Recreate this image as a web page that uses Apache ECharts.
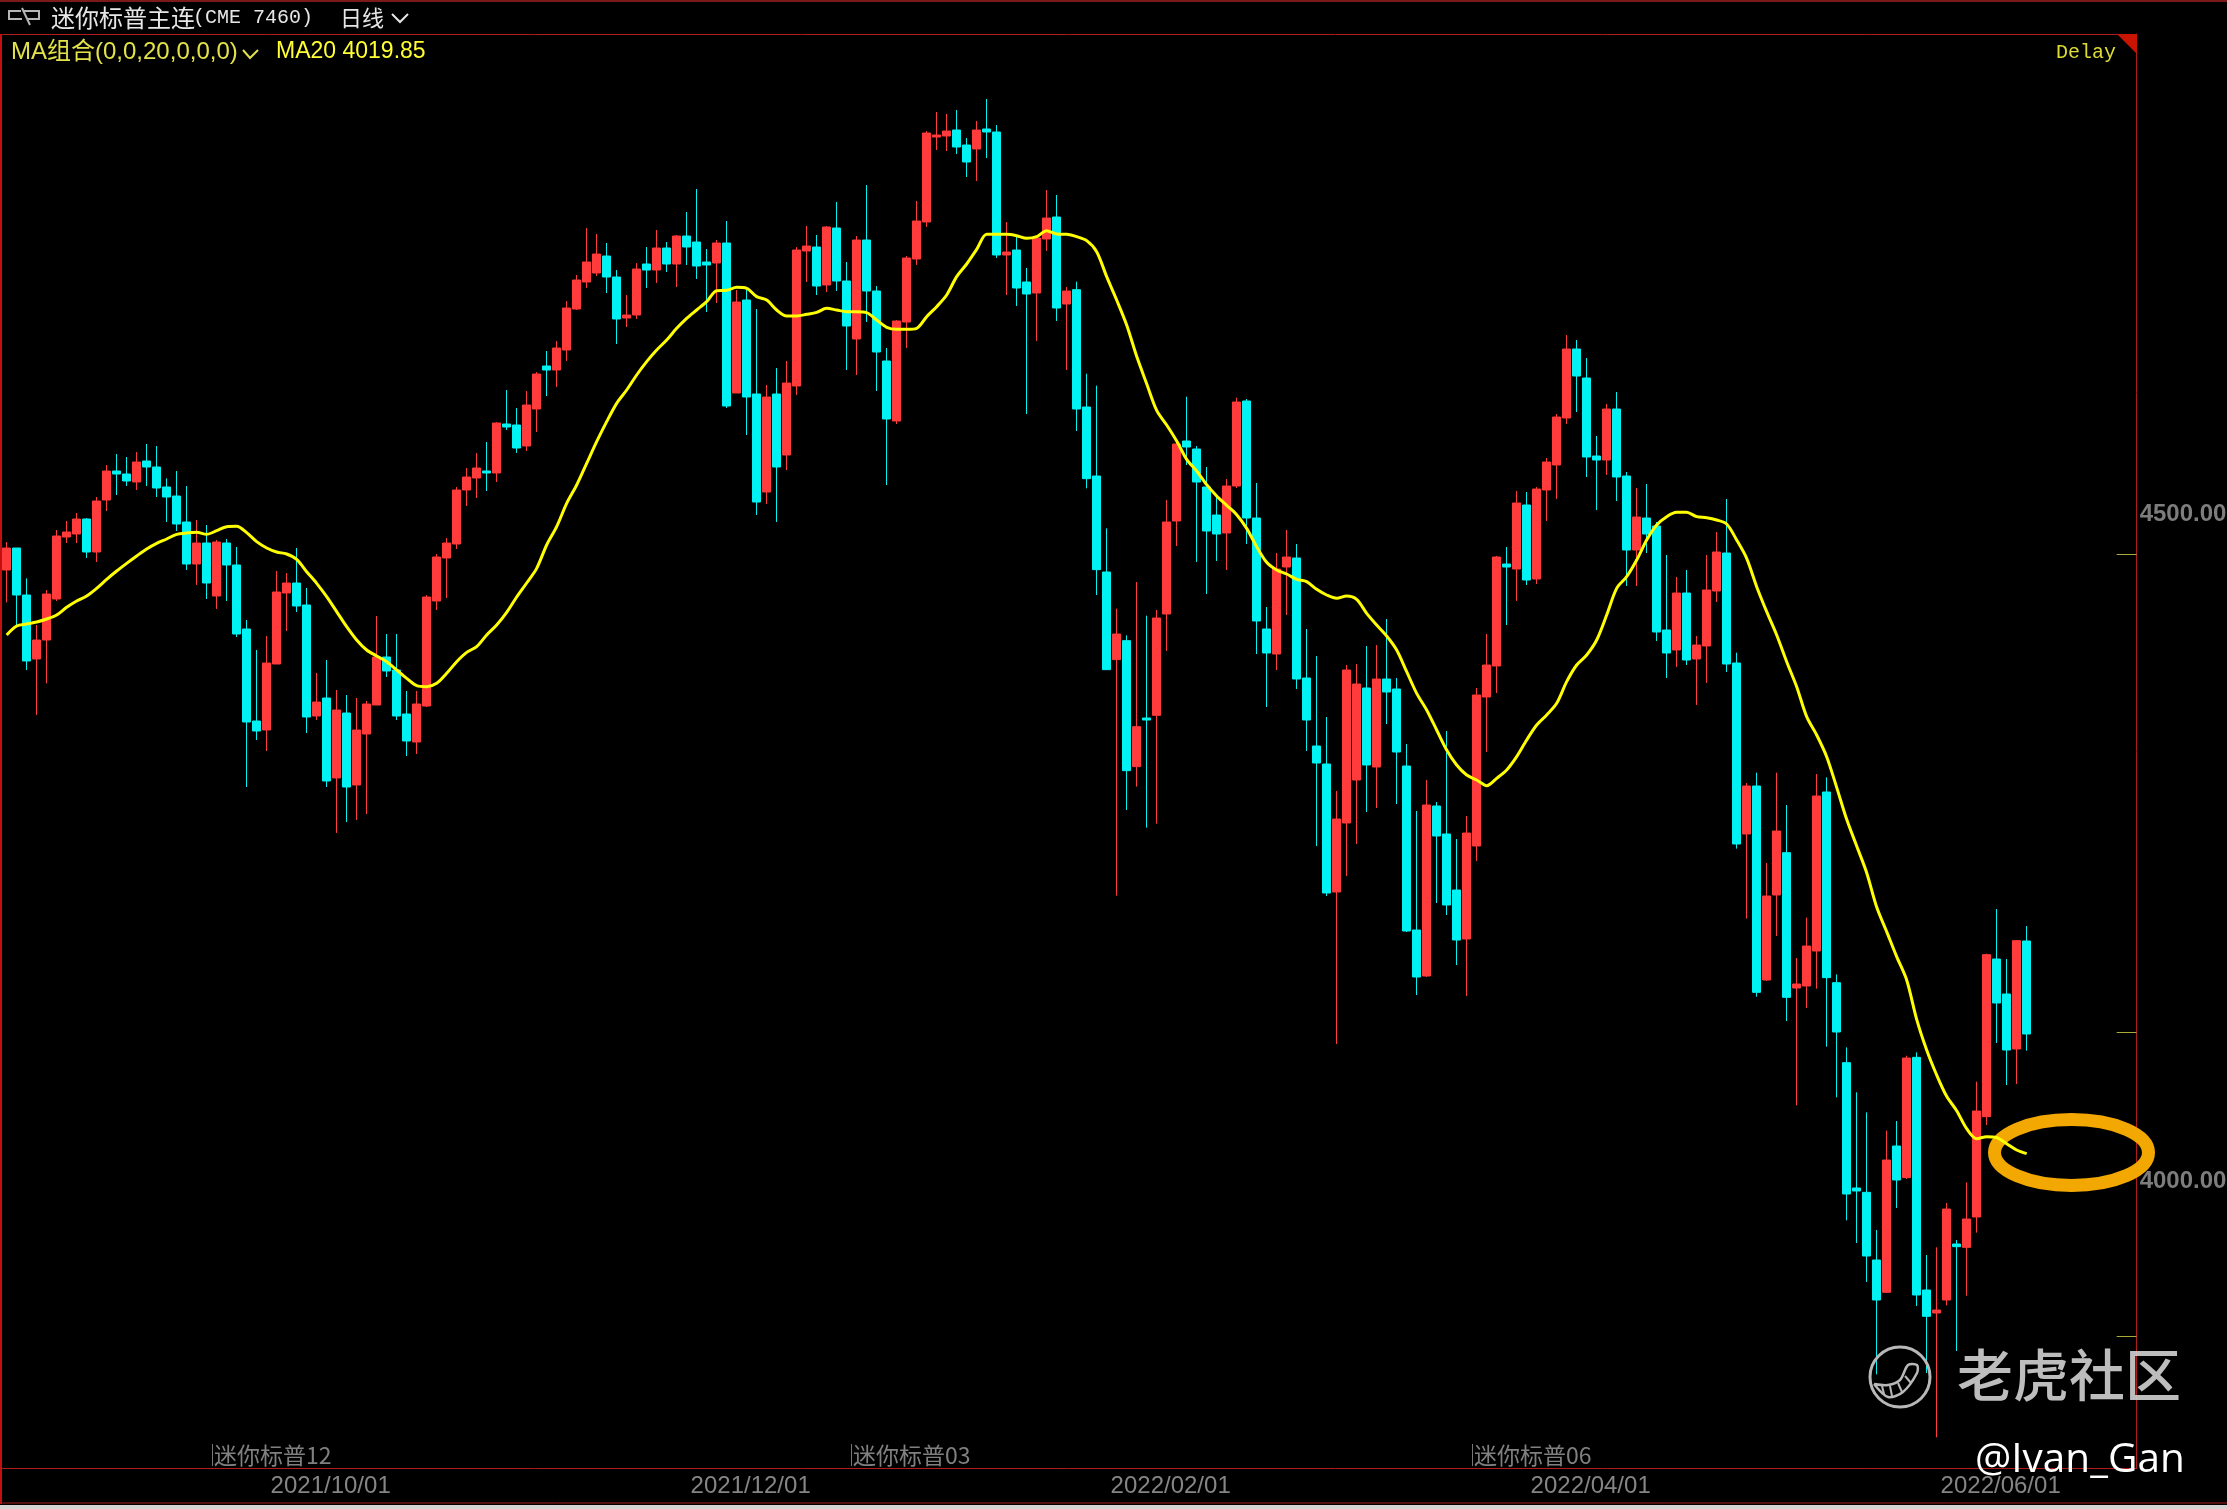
<!DOCTYPE html>
<html>
<head>
<meta charset="utf-8">
<style>html,body{margin:0;padding:0;background:#000;width:2227px;height:1509px;overflow:hidden}#c{width:2227px;height:1509px}</style>
<script src="https://cdn.jsdelivr.net/npm/echarts@6/dist/echarts.min.js"></script>
</head>
<body>
<div id="c"></div>
<script>
const opens = [
4455.75,4472.25,4437,4389,4403.25,4434,4480.5,4482.75,4494,4469.25,
4508.25,4530,4527.75,4521.75,4537.5,4533,4518,4511.25,4491.75,4460.25,
4476,4436.25,4476,4459.5,4411.5,4342.5,4335.75,4385.25,4438.5,4446,
4429.5,4346.25,4359.75,4299.75,4348.5,4294.5,4332.75,4354.5,4390.5,4380.75,
4347.75,4326.75,4353.75,4432.5,4464.75,4475.25,4515.75,4524.75,4530,4528.5,
4565.25,4564.5,4548.75,4576.5,4608.75,4605.75,4620.75,4651.5,4671.75,4678.5,
4691.25,4675.5,4644.75,4647,4685.25,4680.75,4697.25,4685.25,4706.25,4701.75,
4686.75,4686,4701,4588.5,4658.25,4587.75,4514.25,4587.75,4542,4593.75,
4695,4698,4669.5,4712.25,4672.5,4629,4703.25,4665,4612.5,4567.5,
4641.75,4689,4716.75,4780.5,4781.25,4785.75,4774.5,4771.5,4786.5,4784.25,
4692,4695.75,4671.75,4663.5,4704,4720.5,4655.25,4666,4578,4526.25,
4454.25,4388.5,4402.75,4308.25,4344.75,4346.75,4422.75,4492.5,4552.5,4546.5,
4518,4497,4483.5,4518.75,4582.5,4494.75,4411.5,4392.75,4458,4464.75,
4374.75,4323.75,4310.25,4214.25,4266,4298.25,4367.25,4308,4374,4366.5,
4308.75,4185.75,4151.25,4278.75,4257.75,4215.75,4179,4248.75,4360.5,4383.75,
4460.25,4456.5,4504.5,4449,4515.75,4534.5,4569.75,4621.5,4599.75,4541.25,
4538.25,4576.5,4526.25,4470.75,4494.75,4488.75,4410.75,4395.75,4438.5,4389,
4398.75,4440,4468.5,4386,4257.75,4293.75,4148.25,4212,4243.75,4142.25,
4143.75,4170,4289.25,4146.25,4086.25,3992.25,3989,3938.25,3914,4023.75,
4000,4090.25,3915.75,3898.5,3908.25,3950.25,3947.75,3970.5,4045.75,4164,
4137.75,4096.5,4177.5];
const closes = [
4472.25,4437,4387.5,4403.25,4437.75,4481.25,4484.25,4494,4469.25,4507.5,
4530,4527.75,4522.5,4536.75,4533,4517.25,4510.5,4490.25,4460.25,4476,
4446,4476.75,4459.5,4407.75,4341.75,4335,4386,4439.25,4446,4428.75,
4345.5,4356.75,4297.5,4350.75,4293,4335.75,4355.25,4390.5,4380,4346.25,
4327.5,4355.25,4435.5,4465.5,4476,4515.75,4525.5,4532.25,4528.5,4566,
4563,4547.25,4579.5,4602.75,4605.75,4622.25,4652.25,4673.25,4686.75,4692.75,
4675.5,4644,4647,4681.5,4680.75,4697.25,4685.25,4706.25,4698,4683.75,
4684.5,4701,4578.75,4656.75,4585.5,4506.75,4585.5,4533,4596,4695.75,
4698.75,4668.75,4713,4672.5,4638.75,4703.25,4665,4619.25,4569,4642.5,
4689.75,4717.5,4783.5,4782,4785,4773,4761.75,4785.75,4784.25,4692,
4694.25,4667.25,4662.75,4704.75,4719.75,4652.25,4665,4576.5,4524.25,4456,
4381,4407.75,4305.25,4338.25,4343.25,4419.75,4491.75,4550.25,4548,4521.75,
4485,4482.75,4518.75,4581.75,4494.75,4417.5,4393.5,4456.5,4465.5,4374,
4343.25,4311,4213.5,4269,4380.75,4370.25,4309.5,4374,4364.25,4319.25,
4185,4150.5,4279.5,4256.25,4204.5,4178.25,4258.5,4362,4384.5,4465.5,
4458,4506,4448.25,4516.5,4536.75,4570.5,4621.5,4601.25,4540.5,4538.25,
4576.5,4525.5,4470.75,4495.5,4482.75,4409.25,4393.5,4438.5,4388.25,4399.5,
4440.75,4469.25,4385.25,4250.25,4293.75,4139,4211.25,4260,4135.25,4145.25,
4173.75,4286.25,4150,4109.25,3987.75,3990,3941.25,3908.25,4013.25,3998.25,
4089.75,3912,3896,3900.75,3976.5,3948.25,3969,4050,4167.25,4131,
4095.75,4177.75,4107.75];
const lows = [
4431.5,4414.5,4380.75,4347,4370.75,4432.5,4476,4476,4464.75,4461.75,
4500,4512,4518.75,4515.75,4518.75,4510.5,4491.75,4485,4455.75,4444.5,
4434,4426.5,4432.5,4405.5,4293,4328.25,4320,4385.25,4410,4424.25,
4333.5,4343.25,4293,4258.5,4266.75,4268.25,4272.75,4354.5,4375.5,4343.25,
4316.25,4317.75,4353,4425.75,4434.75,4471.5,4503.75,4509.75,4515,4521.75,
4560.75,4543.5,4545,4559.25,4586.25,4593,4612.5,4650.75,4667.25,4676.25,
4663.5,4625.25,4638,4644,4667.25,4671,4679.25,4668,4684.5,4674,
4649.25,4656,4577.25,4588.5,4557,4497,4505.25,4491.75,4530.75,4587,
4671.75,4662,4664.25,4665,4605.75,4602,4641.75,4590,4519.5,4565.25,
4622.25,4684.5,4713,4770.75,4770,4767.75,4750.5,4747.5,4764.75,4689.75,
4662,4653.75,4572.75,4627.5,4695,4642.5,4605.75,4560,4517,4437,
4381,4211.5,4275.75,4293.25,4262.5,4265.5,4395,4473.75,4534.5,4461.75,
4437.75,4462.5,4455.75,4517.25,4475.25,4392.75,4353,4380.75,4422,4366.5,
4320,4248.75,4211.25,4100.25,4226.25,4250.25,4274.25,4277.25,4340.25,4280.25,
4184.25,4137,4150.5,4206,4197,4159.5,4136.25,4237.5,4319.25,4363.5,
4414.5,4432.5,4444.5,4445.25,4492.5,4509,4565.25,4574.25,4525.5,4500.75,
4527,4507.5,4443.75,4443.75,4468.5,4402.5,4374.75,4383,4384.5,4354.5,
4371,4431.75,4379.25,4246.75,4194.25,4135.75,4147.5,4181.25,4117.5,4054.25,
4127.25,4141.75,4098.25,4060.25,3968,3951,3921.75,3852.5,3913.75,3977.25,
3999,3903.75,3853.5,3805.25,3904.25,3870,3911.5,3958.75,4039.5,4101,
4069.5,4070.25,4095.25];
const highs = [
4476.75,4472.25,4449.5,4414.5,4440.75,4485.75,4492.5,4498.5,4494.75,4510.5,
4534.5,4542.75,4540.5,4544.25,4550.25,4548.75,4524.5,4530,4518.75,4493.25,
4489.5,4478.25,4479,4473,4418.25,4395.75,4406.25,4455,4453.5,4472.25,
4442.25,4378.5,4388.25,4365.75,4362,4359.75,4357.5,4421.25,4407.75,4407.75,
4365,4365,4437,4467.75,4479.75,4518,4532.25,4543.5,4551.75,4566.75,
4590.75,4577.25,4590,4604.25,4620,4627.5,4657.5,4677,4712.25,4707.75,
4701,4680.75,4662,4686,4698,4710.75,4701.75,4707,4724.25,4741.5,
4696.5,4703.25,4717.5,4665.75,4665.75,4651.5,4594.5,4607.25,4612.5,4698,
4713.75,4707,4713.75,4731.75,4686.75,4706.25,4744.5,4668.75,4622.25,4643.25,
4691.25,4732.5,4785,4799.25,4797.75,4800.75,4779.75,4792.5,4809,4789.5,
4716.75,4705.5,4682.25,4704.75,4740.75,4737,4668,4672,4603,4594,
4487,4426.75,4406.75,4446.75,4421.5,4425.75,4508.25,4553.25,4585.75,4548.75,
4533,4512,4524,4585,4584,4521,4428,4468.5,4485.75,4475.25,
4411.5,4391.25,4345.5,4290,4384.5,4385.25,4398.75,4399.5,4419,4374.75,
4325.25,4275,4298.25,4281.75,4335,4254,4271.25,4367.25,4407.75,4466.25,
4473,4515,4514.25,4518,4539.75,4572.75,4632,4628.25,4614.75,4556.25,
4580.25,4589.25,4529.25,4517.25,4520.25,4491.75,4467,4450.5,4455.75,4406.25,
4467,4484.25,4509,4393.75,4296,4303.75,4236,4303.75,4279.5,4164.75,
4195,4302.75,4300.25,4152.5,4097.75,4064,4049,3960.75,4035.25,4042.5,
4091.5,4094,3942,3947.75,3981,3953.25,3996.5,4072,4168,4201.5,
4164,4178.25,4188.75];
const ma20 = [
4407,4413.75,4415.25,4416.75,4419,4422,4427.75,4432.5,4436.25,4442,
4448.75,4455,4460.75,4466.25,4471.5,4475.75,4479,4482.5,4483.5,4484,
4482.5,4485.25,4488.25,4488.5,4483.75,4477,4472.25,4469.25,4467.75,4463.75,
4454.5,4445.75,4435.75,4424.5,4413.25,4403.25,4395.75,4391.25,4387,4380.75,
4374.5,4369,4368.25,4370.75,4378.25,4387,4394,4398.25,4407,4414.5,
4424,4435.5,4446,4457,4474.5,4488.25,4505.75,4519.5,4535.75,4552,
4567,4580.75,4590.75,4602,4612,4620.75,4628.25,4637,4644.5,4650.75,
4657,4665.25,4665.5,4667.75,4667,4660.75,4658.25,4650.75,4646.25,4646.25,
4647.5,4649,4652,4650.75,4649.5,4649.5,4648.75,4643.25,4637.75,4636.25,
4636.25,4637,4645.75,4653.25,4662,4675.75,4685.25,4696.25,4707.5,4707.5,
4707.5,4706.5,4704.5,4705.75,4710.25,4707.75,4707.5,4705.75,4702.75,4694.5,
4675.75,4658.25,4639.5,4616,4595.5,4575.5,4564.5,4552.5,4538.75,4530,
4519.75,4511.25,4504.25,4497.25,4487,4473.25,4461.5,4455.75,4452.75,4448.75,
4447,4441.25,4437,4434.5,4436.25,4433.75,4423.25,4414.5,4406.25,4395.75,
4379.5,4363.25,4350.75,4335.75,4320.75,4309.5,4302,4298.25,4294,4299.5,
4305.75,4315.75,4328.25,4339.5,4347,4355.75,4372,4384.5,4392,4403.25,
4422,4442,4450.75,4463.25,4478.25,4489.5,4495.75,4499,4499,4495.75,
4495,4493.25,4490.25,4478.25,4464.5,4443.25,4424.5,4407,4387,4368.25,
4345.75,4332,4315.75,4292.75,4268.75,4248.75,4228.75,4203,4184.5,4165.75,
4148.25,4118.75,4095.75,4077,4061,4050.25,4036.75,4029.25,4030.75,4030,
4025.5,4020.75,4018];
const dateLabels = ['2021/10/01','2021/12/01','2022/02/01','2022/04/01','2022/06/01'];
const dateIndexes = [32,74,116,158,199];
const priceLabels = [4000,4500];
const priceTicks = [3881.25,4109.25,4467.75];
const slotCount = 214;

const categories = Array.from({length: slotCount}, (_, i) => String(i));
const candles = opens.map((o, i) => [o, closes[i], lows[i], highs[i]]);
const RED = '#ff3b3b', CYAN = '#00f2f2', BORDER = '#b01c1c';
const hline = (x1, x2, y, c, w) => ({type:'line', silent:true, z:50, shape:{x1,y1:y,x2,y2:y}, style:{stroke:c,lineWidth:w||1}});
const vline = (x, y1, y2, c, w) => ({type:'line', silent:true, z:50, shape:{x1:x,y1,x2:x,y2}, style:{stroke:c,lineWidth:w||1}});
const txt = (x, y, text, fill, font, extra) => ({type:'text', silent:true, z:60, x, y, style:Object.assign({text, fill, font, textVerticalAlign:'middle', verticalAlign:'middle'}, extra||{})});
const CJK = '"Noto Sans CJK SC"';

const chart = echarts.init(document.getElementById('c'), null, {renderer:'canvas', width:2227, height:1509});
chart.setOption({
  animation:false,
  backgroundColor:'#000',
  grid:{left:6.67, top:34, width:2130, height:1434.67, containLabel:false, outerBoundsMode:'none'},
  xAxis:{
    type:'category', data:categories, boundaryGap:false,
    axisLine:{show:false}, axisTick:{show:false}, splitLine:{show:false},
    axisLabel:{
      show:true, margin:6, color:'#858585', fontFamily:'"Liberation Sans"', fontSize:24,
      hideOverlap:false, padding:[0,0,0,8],
      interval:(i) => dateIndexes.includes(i),
      formatter:(v, i) => { const p = dateIndexes.indexOf(i); return p >= 0 ? dateLabels[p] : ''; }
    }
  },
  yAxis:{
    type:'value', position:'right', scale:true, min:3781.75, max:4857.75,
    splitLine:{show:false},
    axisLine:{show:true, lineStyle:{color:BORDER, width:1}},
    axisTick:{show:true, inside:true, length:20, customValues:priceTicks, lineStyle:{color:'#a9a93c', width:1}},
    axisLabel:{show:true, margin:3, verticalAlign:'top', lineHeight:7, customValues:priceLabels, color:'#7d7d7d', fontFamily:'"Liberation Sans"', fontWeight:'bold', fontSize:24,
      formatter:(v) => Number(v).toFixed(2)}
  },
  series:[
    {type:'candlestick', data:candles, clip:false, barWidth:8, z:3,
     itemStyle:{color:RED, color0:CYAN, borderColor:RED, borderColor0:CYAN, borderWidth:1}},
    {type:'line', data:ma20, clip:false, showSymbol:false, symbol:'none', smooth:0.3, z:5,
     lineStyle:{color:'#ffff00', width:3}}
  ],
  graphic:[
    {type:'ellipse', silent:true, z:1, shape:{cx:2071.5, cy:1152.5, rx:77, ry:33}, style:{fill:'transparent', stroke:'#f2a800', lineWidth:13}},
    hline(0,2227,1,'#7c1a1a',2),
    hline(0,2137,34.5,BORDER,1),
    vline(1,34,1504,'#c40f0f',2),
    hline(0,2137,1468.5,BORDER,1),
    hline(0,2227,1503,'#a01c1c',1),
    {type:'rect', silent:true, z:50, shape:{x:0,y:1505,width:2227,height:4}, style:{fill:'#d4d4d4'}},
    {type:'polygon', silent:true, z:50, shape:{points:[[2117,34],[2137,34],[2137,54]]}, style:{fill:'#c81400'}},
    {type:'polyline', silent:true, z:60, shape:{points:[[21,11],[9,11],[9,19],[22,19]]}, style:{stroke:'#b5b5b5',fill:'none',lineWidth:2}},
    {type:'polyline', silent:true, z:60, shape:{points:[[24,11],[39,11],[39,19],[28,19]]}, style:{stroke:'#b5b5b5',fill:'none',lineWidth:2}},
    {type:'line', silent:true, z:60, shape:{x1:22,y1:8,x2:30,y2:25}, style:{stroke:'#b5b5b5',lineWidth:2}},
    txt(51,18,'迷你标普主连','#e6e6e6','24px '+CJK),
    txt(193,18,'(CME 7460)','#e6e6e6','20px "Liberation Mono"'),
    txt(340,18,'日线','#e6e6e6','22px '+CJK),
    {type:'polyline', silent:true, z:60, shape:{points:[[392,14],[400,22],[408,14]]}, style:{stroke:'#e6e6e6',fill:'none',lineWidth:2}},
    txt(11,52,'MA组合(0,0,20,0,0,0)','#e2e24a','24px "Liberation Sans", '+CJK),
    {type:'polyline', silent:true, z:60, shape:{points:[[243,50],[250,58],[258,50]]}, style:{stroke:'#e2e24a',fill:'none',lineWidth:2}},
    txt(276,52,'MA20 4019.85','#ffff33','23px "Liberation Sans"'),
    txt(2056,53,'Delay','#dcdc32','20px "Liberation Mono"'),
    vline(212.5,1444,1466,'#777',1), txt(214,1455,'迷你标普12','#808080','23px '+CJK),
    vline(851.5,1444,1466,'#777',1), txt(853,1455,'迷你标普03','#808080','23px '+CJK),
    vline(1472.5,1444,1466,'#777',1), txt(1474,1455,'迷你标普06','#808080','23px '+CJK),
    {type:'circle', silent:true, z:60, shape:{cx:1900,cy:1377,r:30}, style:{fill:'none',stroke:'#b8b8b8',lineWidth:3}},
    {type:'polyline', silent:true, z:60, shape:{points:[[1874,1384],[1888,1397],[1903,1392],[1917,1373],[1917,1365],[1908,1365],[1900,1380],[1888,1385],[1874,1384]], smooth:0.3}, style:{fill:'none',stroke:'#b8b8b8',lineWidth:2.5}},
    {type:'line', silent:true, z:60, shape:{x1:1882,y1:1386,x2:1884,y2:1394}, style:{stroke:'#b8b8b8',lineWidth:2}},
    {type:'line', silent:true, z:60, shape:{x1:1890,y1:1386,x2:1892,y2:1396}, style:{stroke:'#b8b8b8',lineWidth:2}},
    {type:'line', silent:true, z:60, shape:{x1:1898,y1:1383,x2:1902,y2:1392}, style:{stroke:'#b8b8b8',lineWidth:2}},
    {type:'line', silent:true, z:60, shape:{x1:1905,y1:1376,x2:1911,y2:1383}, style:{stroke:'#b8b8b8',lineWidth:2}},
    txt(1957,1375,'老虎社区','rgba(205,205,205,0.92)','500 56px '+CJK),
    txt(1975,1460,'@Ivan_Gan','#ffffff','40.5px "Open Sans"')
  ]
});
</script>
</body>
</html>
